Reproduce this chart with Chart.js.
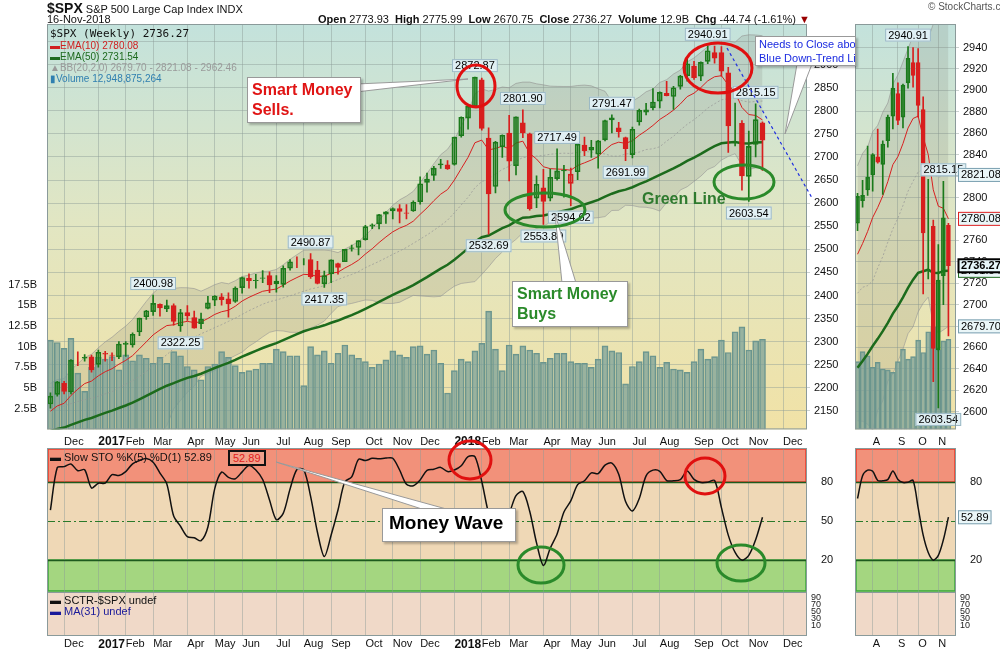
<!DOCTYPE html>
<html>
<head>
<meta charset="utf-8">
<script src="https://cdn.jsdelivr.net/npm/chart.js@4.4.1/dist/chart.umd.min.js"></script>
<style>
body{margin:0;width:1000px;height:650px;background:#fff;font-family:'Liberation Sans',Arial,sans-serif;position:relative;overflow:hidden;color:#111}
.c{position:absolute}
.t{position:absolute;white-space:nowrap;font-size:11px}
.box{position:absolute;background:#fff;border:1px solid #999;box-shadow:2px 2px 2px rgba(0,0,0,.25);font-weight:bold;line-height:1.25;white-space:nowrap}
svg{position:absolute;left:0;top:0;pointer-events:none}
</style>
</head>
<body>
<div class="c" style="left:0;top:0;width:850px;height:440px"><canvas id="main"></canvas></div>
<div class="c" style="left:850px;top:0;width:150px;height:440px"><canvas id="zoom"></canvas></div>
<div class="c" style="left:0;top:430px;width:850px;height:220px"><canvas id="sto"></canvas></div>
<div class="c" style="left:850px;top:430px;width:150px;height:220px"><canvas id="zsto"></canvas></div>

<svg width="1000" height="650">
  <line x1="727" y1="48" x2="812" y2="198" stroke="#2030e0" stroke-width="1.2" stroke-dasharray="3,3"/>
  <polygon points="356,84 468,79 356,92" fill="#fff" stroke="#999"/>
  <polygon points="555,214 562,283 576,283" fill="#fff" stroke="#999"/>
  <polygon points="276,462 425,510 450,510" fill="#fff" stroke="#999"/>
  <polygon points="797,64 785,134 812,64" fill="#fff" stroke="#999"/>
  <g fill="none" stroke-width="3">
    <ellipse cx="476" cy="86" rx="19" ry="21" stroke="#e01010"/>
    <ellipse cx="718" cy="68" rx="34" ry="25" stroke="#e01010"/>
    <ellipse cx="545" cy="210" rx="40" ry="17" stroke="#2a8a2a"/>
    <ellipse cx="744" cy="182" rx="30" ry="17" stroke="#2a8a2a"/>
    <ellipse cx="470" cy="460" rx="21" ry="19" stroke="#e01010"/>
    <ellipse cx="705" cy="476" rx="20" ry="18" stroke="#e01010"/>
    <ellipse cx="541" cy="565" rx="23" ry="18" stroke="#2a8a2a"/>
    <ellipse cx="741" cy="563" rx="24" ry="18" stroke="#2a8a2a"/>
  </g>
</svg>

<!-- header -->
<div class="t" style="left:47px;top:0;font-size:11px"><b style="font-size:14px">$SPX</b> S&amp;P 500 Large Cap Index INDX</div>
<div class="t" style="left:47px;top:13px">16-Nov-2018</div>
<div class="t" style="left:318px;top:13px"><b>Open</b> 2773.93 &nbsp;<b>High</b> 2775.99 &nbsp;<b>Low</b> 2670.75 &nbsp;<b>Close</b> 2736.27 &nbsp;<b>Volume</b> 12.9B &nbsp;<b>Chg</b> -44.74 (-1.61%) <span style="color:#900">&#9660;</span></div>
<div class="t" style="left:928px;top:1px;font-size:10px;color:#555">&copy; StockCharts.com</div>

<!-- price legend -->
<div class="t" style="left:50px;top:27px;font-size:11px;font-family:'DejaVu Sans Mono',monospace">$SPX (Weekly) 2736.27</div>
<div class="t" style="left:50px;top:40px;font-size:10px;color:#d02020">&#9644;EMA(10) 2780.08</div>
<div class="t" style="left:50px;top:51px;font-size:10px;color:#1e6a1e">&#9644;EMA(50) 2731.54</div>
<div class="t" style="left:50px;top:62px;font-size:10px;color:#9a9a9a">&#9650;BB(20,2.0) 2679.70 - 2821.08 - 2962.46</div>
<div class="t" style="left:50px;top:73px;font-size:10px;color:#2f7fb0">&#9646;Volume 12,948,875,264</div>

<!-- stochastic legend -->
<div class="t" style="left:50px;top:451px;font-size:11px">&#9644; Slow STO %K(5) %D(1) 52.89</div>
<div class="t" style="left:228px;top:450px;font-size:11px;color:#e02020;border:2px solid #111;padding:0 3px;background:#f2a08a">52.89</div>
<div class="t" style="left:50px;top:594px;font-size:11px">&#9644; SCTR-$SPX undef</div>
<div class="t" style="left:50px;top:605px;font-size:11px;color:#1a1a9a">&#9644; MA(31) undef</div>

<!-- callout boxes -->
<div class="box" style="left:247px;top:77px;width:108px;height:42px;color:#e01414;font-size:16px;padding:2px 0 0 4px">Smart Money<br>Sells.</div>
<div class="box" style="left:512px;top:281px;width:110px;height:42px;color:#2a8a2a;font-size:16px;padding:2px 0 0 4px">Smart Money<br>Buys</div>
<div class="box" style="left:382px;top:508px;width:126px;height:30px;color:#000;font-size:19px;padding:2px 0 0 6px;font-family:'Liberation Sans Narrow','Liberation Sans',Arial">Money Wave</div>
<div class="box" style="left:755px;top:36px;width:96px;height:27px;color:#1a2ae0;font-size:11px;font-weight:normal;padding:1px 0 0 3px;overflow:hidden">Needs to Close above<br>Blue Down-Trend Line</div>
<div class="t" style="left:642px;top:190px;font-size:16px;font-weight:bold;color:#2e7a2e">Green Line</div>

<script>
// -------------------------------------------------------------------------
// Weekly $SPX data (week ending 18-Nov-2016 .. 16-Nov-2018)
// -------------------------------------------------------------------------
const opens = [2165,2186,2210,2191,2258,2266,2267,2251,2273,2270,2267,2294,2293,2321,2354,2365,2381,2371,2378,2334,
  2363,2352,2339,2372,2390,2397,2393,2387,2417,2437,2432,2437,2443,2431,2424,2459,2472,2477,2478,2455,
  2425,2447,2469,2473,2503,2504,2521,2550,2555,2576,2583,2588,2578,2583,2603,2645,2660,2685,2683,2684,
  2746,2784,2809,2867,2741,2636,2722,2752,2681,2774,2750,2611,2633,2611,2653,2671,2643,2668,2726,2715,
  2706,2737,2785,2763,2742,2705,2776,2797,2807,2821,2838,2831,2853,2876,2897,2875,2907,2926,2926,2882,
  2768,2773,2658,2727,2773.93];
const highs = [2189,2214,2214,2261,2278,2272,2271,2282,2279,2276,2300,2300,2319,2351,2368,2400.98,2382,2390,2382,2370,
  2378,2366,2362,2398,2400,2404,2406,2419,2440,2447,2446,2454,2451,2443,2464,2478,2484,2480,2490.87,2474,
  2453,2477,2470,2500,2509,2519,2552,2555,2576,2582,2590,2597,2597,2605,2657,2665,2680,2695,2692,2743,
  2787,2811,2872.87,2871,2763,2734,2748,2790,2787,2801.90,2752,2659,2673,2674,2717.49,2682,2676,2733,2743,2736,
  2736,2780,2791.47,2775,2743,2765,2804,2816,2848,2841,2864,2853,2877,2916,2907,2906,2940.91,2940,2939,2894,
  2817,2779,2756,2815.15,2775.99];
const lows = [2156,2182,2187,2187,2248,2258,2234,2245,2258,2259,2263,2268,2288,2313,2348,2357,2355,2365,2336,2322.25,
  2346,2329,2328,2371,2378,2379,2353,2385,2405,2416,2416,2428,2406,2407,2418,2455,2460,2466,2437,2425,
  2417.35,2428,2446,2473,2496,2488,2520,2545,2544,2556,2566,2557,2566,2582,2598,2624,2649,2675,2673,2682,
  2743,2760,2808,2758,2532.69,2622,2699,2648,2661,2742,2585,2590,2553.80,2605,2650,2613,2594.62,2651,2703,2699,
  2676,2735,2752,2743,2691.99,2698,2769,2791,2802,2806,2832,2803,2847,2864,2868,2865,2902,2903,2875,2710,
  2724,2628,2603.54,2700,2670.75];
const closes = [2182,2213,2192,2260,2258,2264,2239,2277,2275,2271,2295,2297,2316,2351,2367,2383,2373,2378,2344,2363,
  2356,2329,2349,2384,2399,2391,2382,2416,2439,2432,2433,2438,2423,2425,2459,2473,2472,2477,2441,2426,
  2443,2477,2461,2500,2502,2519,2549,2553,2575,2581,2588,2582,2579,2602,2642,2652,2676,2683,2674,2743,
  2786,2810,2873,2762,2620,2732,2747,2691,2787,2752,2588,2641,2604,2656,2670,2670,2663,2728,2713,2721,
  2735,2779,2780,2755,2718,2760,2801,2802,2819,2840,2833,2850,2875,2902,2872,2905,2930,2914,2886,2767,
  2768,2659,2723,2781,2736.27];
// volume in billions of shares
const volumes = [10.8,10.5,9.8,11.0,6.8,4.6,7.5,8.7,8.5,8.8,7.2,9.0,8.3,9.0,8.6,8.0,8.7,8.0,9.4,8.9,
  7.6,7.2,6.0,7.6,7.9,9.4,8.7,7.7,6.9,7.1,7.3,8.0,8.0,9.7,9.4,8.9,8.9,5.3,10.0,9.0,
  9.5,8.0,9.2,10.2,9.0,8.6,8.2,7.5,7.9,8.4,9.5,9.0,8.7,10.0,10.1,9.1,9.6,8.0,4.4,7.1,
  8.5,8.2,9.5,10.4,14.3,9.7,7.1,10.2,9.1,10.1,9.6,9.2,8.1,8.6,9.2,9.2,8.2,8.0,8.0,7.5,
  8.5,10.1,9.5,9.3,5.5,7.6,8.2,9.4,8.9,7.5,8.1,7.3,7.2,6.9,8.2,9.7,8.5,8.8,10.8,9.3,
  11.8,12.4,9.6,10.7,10.9];
// weekly closes before the first plotted week (for indicator warm-up)
const priorCloses = [2183,2184,2184,2169,2180,2128,2139,2165,2168,2154,2133,2141,2126,2085,2164];
const priorHighs = [2169,2157,2148,2154,2131,2183];   // last 6 prior weeks
const priorLows = [2142,2114,2118,2119,2084,2084];

const priceTicks = [2150,2200,2250,2300,2350,2400,2450,2500,2550,2600,2650,2700,2750,2800,2850,2900,2950];
const zoomTicks = [2600,2620,2640,2660,2680,2700,2720,2740,2760,2780,2800,2820,2840,2860,2880,2900,2920,2940];
const volTicks = [2.5,5,7.5,10,12.5,15,17.5];
const stoTicks = [20,50,80];
const sctrTicks = ['90','70','50','30','10'];
const MONTHS = ['Jan','Feb','Mar','Apr','May','Jun','Jul','Aug','Sep','Oct','Nov','Dec'];
const hiLoMarks = [[15,'h'],[19,'l'],[38,'h'],[40,'l'],[62,'h'],[64,'l'],[69,'h'],[72,'l'],[74,'h'],[76,'l'],
  [82,'h'],[84,'l'],[96,'h'],[102,'l'],[103,'h']];
const zoomMarks = [[96,'h'],[102,'l'],[103,'h']];
// right-axis value flags in the zoom panel: value, border, text, bold
const zoomFlags = [[2821.08,'#7a9fb0','#000',false],[2780.08,'#e02020','#000',false],[2731.54,'#1e6a1e','#000',false],
  [2736.27,'#000','#000',true],[2679.70,'#7a9fb0','#000',false]];

const PAD_WEEKS = 6;
const ZOOM_FROM = 86;
const ZOOM_TO = 106;   // 19 weeks + 1 empty

// -------------------------------------------------------------------------
// Labels / indicators
// -------------------------------------------------------------------------
const N = closes.length;
const weekDates = [];
for (let i = 0; i < N + PAD_WEEKS; i++) weekDates.push(new Date(Date.UTC(2016, 10, 18 + 7 * i)));
const labels = weekDates.map(d => d.toISOString().slice(0, 10));
const monthStart = weekDates.map((d, i) => i > 0 && d.getUTCMonth() !== weekDates[i - 1].getUTCMonth());

function ema(src, n, seed) {
    const k = 2 / (n + 1);
    let e = seed;
    return src.map(v => (e = v * k + e * (1 - k)));
}
const allCloses = priorCloses.concat(closes);
const P = priorCloses.length;
const ema10 = ema(allCloses, 10, 2170).slice(P);
const ema50 = ema(allCloses, 50, 2065).slice(P);
const bbUp = [], bbLow = [], bbMid = [];
for (let j = P; j < allCloses.length; j++) {
    const w = allCloses.slice(Math.max(0, j - 19), j + 1);
    const m = w.reduce((a, b) => a + b, 0) / w.length;
    const sd = Math.sqrt(w.reduce((a, b) => a + (b - m) ** 2, 0) / w.length);
    bbMid.push(m); bbUp.push(m + 2 * sd); bbLow.push(m - 2 * sd);
}
// slow stochastic %K(5), smoothed 3
const hA = priorHighs.concat(highs), lA = priorLows.concat(lows), cA = priorCloses.slice(-6).concat(closes);
const fastK = cA.map((c, j) => {
    if (j < 4) return null;
    const hh = Math.max(...hA.slice(j - 4, j + 1)), ll = Math.min(...lA.slice(j - 4, j + 1));
    return 100 * (c - ll) / (hh - ll);
});
const slowK = [];
for (let j = 6; j < cA.length; j++) slowK.push((fastK[j] + fastK[j - 1] + fastK[j - 2]) / 3);

const prevClose = i => (i ? closes[i - 1] : priorCloses[P - 1]);
const candleColor = i => (closes[i] >= prevClose(i) ? '#1b7a1b' : '#d81e1e');

// -------------------------------------------------------------------------
// Plugins
// -------------------------------------------------------------------------
const FONT = "'Liberation Sans', Arial, sans-serif";

const priceBg = {
    id: 'priceBg',
    beforeDraw(chart) {
        const { ctx, chartArea: a } = chart;
        const g = ctx.createLinearGradient(0, a.top, 0, a.bottom);
        g.addColorStop(0, '#c3e2dc');
        g.addColorStop(0.5, '#e2e6c2');
        g.addColorStop(1, '#f1e2a6');
        ctx.save();
        ctx.fillStyle = g;
        ctx.fillRect(a.left, a.top, a.right - a.left, a.bottom - a.top);
        ctx.restore();
    },
    afterDraw(chart) {
        const { ctx, chartArea: a } = chart;
        ctx.save();
        ctx.strokeStyle = '#8a9a9a';
        ctx.strokeRect(a.left + 0.5, a.top + 0.5, a.right - a.left - 1, a.bottom - a.top - 1);
        ctx.restore();
    }
};

function tagBox(ctx, text, x, y, border, bg, color, bold) {
    ctx.font = (bold ? 'bold ' : '') + '11px ' + FONT;
    const w = ctx.measureText(text).width + 6;
    ctx.fillStyle = bg;
    ctx.fillRect(x, y - 7, w, 14);
    ctx.strokeStyle = border;
    ctx.lineWidth = bold ? 2 : 1;
    ctx.strokeRect(x + 0.5, y - 6.5, w - 1, 13);
    ctx.fillStyle = color;
    ctx.textBaseline = 'middle';
    ctx.fillText(text, x + 3, y + 0.5);
}

function hiLoPlugin(marks, offset) {
    return {
        id: 'hiLo',
        afterDatasetsDraw(chart) {
            const { ctx, scales } = chart;
            ctx.save();
            ctx.font = '11px ' + FONT;
            marks.forEach(([i, t]) => {
                const v = t === 'h' ? highs[i] : lows[i];
                const txt = v.toFixed(2);
                const x = scales.x.getPixelForValue(i - offset);
                const py = scales.y.getPixelForValue(v);
                const w = ctx.measureText(txt).width + 6;
                const y = t === 'h' ? py - 18 : py + 5;
                ctx.fillStyle = 'rgba(225,240,245,0.95)';
                ctx.fillRect(x - w / 2, y, w, 13);
                ctx.strokeStyle = '#9ab8c4';
                ctx.strokeRect(x - w / 2 + 0.5, y + 0.5, w - 1, 12);
                ctx.fillStyle = '#000';
                ctx.textBaseline = 'middle';
                ctx.textAlign = 'center';
                ctx.fillText(txt, x, y + 7);
            });
            ctx.restore();
        }
    };
}

const zoomFlagPlugin = {
    id: 'zoomFlags',
    afterDraw(chart) {
        const { ctx, scales, chartArea: a } = chart;
        ctx.save();
        zoomFlags.forEach(([v, border, color, bold]) => {
            tagBox(ctx, v.toFixed(2), a.right + 2, scales.y.getPixelForValue(v), border,
                bold ? '#e6f6fa' : '#eaf6f8', color, bold);
        });
        ctx.restore();
    }
};

// month labels above the indicator panel (same text as the bottom axis)
const topMonths = {
    id: 'topMonths',
    afterDraw(chart) {
        const { ctx, chartArea: a, scales: { x } } = chart;
        ctx.save();
        ctx.fillStyle = '#111';
        ctx.textBaseline = 'bottom';
        x.ticks.forEach((t, i) => {
            if (!t.label) return;
            const yr = /^\d{4}$/.test(t.label);
            ctx.font = (yr ? 'bold 12px ' : '11px ') + FONT;
            ctx.fillText(t.label, x.getPixelForTick(i), a.top - 0.5);
        });
        ctx.restore();
    }
};

const stoBands = {
    id: 'stoBands',
    beforeDraw(chart) {
        const { ctx, chartArea: a, scales: { y } } = chart;
        const w = a.right - a.left;
        const y80 = y.getPixelForValue(80), y20 = y.getPixelForValue(20), ySep = y.getPixelForValue(-4.6);
        ctx.save();
        ctx.fillStyle = '#efd8b6';
        ctx.fillRect(a.left, a.top, w, ySep - a.top);
        ctx.fillStyle = '#f2917a';
        ctx.fillRect(a.left, a.top, w, y80 - a.top);
        ctx.strokeStyle = '#ee3a2a';
        ctx.lineWidth = 1.5;
        ctx.strokeRect(a.left + 1, a.top + 1, w - 2, y80 - a.top - 1);
        ctx.fillStyle = '#a4d680';
        ctx.fillRect(a.left, y20, w, ySep - y20);
        ctx.strokeStyle = '#3da83d';
        ctx.strokeRect(a.left + 1, y20, w - 2, ySep - y20 - 1);
        ctx.fillStyle = '#f0d9c8';
        ctx.fillRect(a.left, ySep, w, a.bottom - ySep);
        ctx.restore();
    },
    beforeDatasetsDraw(chart) {
        const { ctx, chartArea: a, scales: { y } } = chart;
        ctx.save();
        ctx.strokeStyle = '#1e5a1e';
        ctx.lineWidth = 1.5;
        [80, 20].forEach(v => {
            const py = Math.round(y.getPixelForValue(v)) + 0.5;
            ctx.beginPath(); ctx.moveTo(a.left, py); ctx.lineTo(a.right, py); ctx.stroke();
        });
        ctx.strokeStyle = '#2a7a2a';
        ctx.lineWidth = 1;
        ctx.setLineDash([8, 3, 2, 3]);
        const p50 = Math.round(y.getPixelForValue(50)) + 0.5;
        ctx.beginPath(); ctx.moveTo(a.left, p50); ctx.lineTo(a.right, p50); ctx.stroke();
        ctx.setLineDash([]);
        const ps = Math.round(y.getPixelForValue(-4.6)) + 0.5;
        ctx.strokeStyle = '#8a9a9a';
        ctx.beginPath(); ctx.moveTo(a.left, ps); ctx.lineTo(a.right, ps); ctx.stroke();
        ctx.restore();
    },
    afterDraw(chart) {
        const { ctx, chartArea: a, scales: { y } } = chart;
        ctx.save();
        ctx.strokeStyle = '#8a9a9a';
        ctx.strokeRect(a.left + 0.5, a.top + 0.5, a.right - a.left - 1, a.bottom - a.top - 1);
        ctx.font = '9px ' + FONT;
        ctx.fillStyle = '#222';
        ctx.textBaseline = 'middle';
        sctrTicks.forEach((t, k) => ctx.fillText(t, a.right + 4, y.getPixelForValue(-9 - k * 5.4)));
        ctx.restore();
    }
};

const zStoFlag = {
    id: 'zStoFlag',
    afterDraw(chart) {
        const { ctx, chartArea: a, scales: { y } } = chart;
        ctx.save();
        tagBox(ctx, '52.89', a.right + 2, y.getPixelForValue(52.89), '#7a9fb0', '#eaf6f8', '#000', false);
        ctx.restore();
    }
};

// -------------------------------------------------------------------------
// Chart builders
// -------------------------------------------------------------------------
function fixW(w) { return s => { s.width = w; }; }
function fixH(h) { return s => { s.height = h; }; }
const gridX = (ls) => ({ color: c => (ls[c.index] ? 'rgba(140,155,150,0.45)' : 'transparent'), offset: false, drawTicks: false });

function priceChart(id, from, to, bodyW, yMin, yMax, yTicks, marks, extra) {
    const lab = labels.slice(from, to);
    const ms = monthStart.slice(from, to);
    const idx = closes.map((_, i) => i).slice(from);
    const sl = a => a.slice(from);
    const datasets = [
        { type: 'line', data: sl(bbUp), borderColor: 'rgba(150,150,150,0.6)', borderWidth: 1, pointRadius: 0, order: 12 },
        { type: 'line', data: sl(bbLow), borderColor: 'rgba(150,150,150,0.6)', borderWidth: 1, pointRadius: 0,
          fill: '-1', backgroundColor: 'rgba(120,120,105,0.17)', order: 11 },
        { type: 'bar', data: sl(volumes), yAxisID: 'vol', backgroundColor: 'rgba(120,160,152,0.72)',
          borderColor: '#6a948c', borderWidth: 1, barThickness: bodyW + 1, order: 10 },
        { type: 'line', data: sl(bbMid), borderColor: 'rgba(150,150,150,0.7)', borderWidth: 1, borderDash: [2, 2], pointRadius: 0, order: 9 },
        { type: 'line', data: sl(ema50), borderColor: '#1c6b1c', borderWidth: 2.5, pointRadius: 0, order: 8 },
        { type: 'line', data: sl(ema10), borderColor: '#d82020', borderWidth: 1, pointRadius: 0, order: 7 },
        { type: 'bar', data: idx.map(i => [lows[i], highs[i]]), backgroundColor: idx.map(candleColor),
          barThickness: 1, grouped: false, order: 2 },
        { type: 'bar', data: idx.map(i => [opens[i], closes[i]]), grouped: false, order: 1,
          backgroundColor: idx.map(i => (closes[i] < opens[i] ? candleColor(i) : 'rgba(255,255,255,0)')),
          borderColor: idx.map(candleColor), borderWidth: 1, borderSkipped: false, barThickness: bodyW }
    ];
    return new Chart(document.getElementById(id), {
        type: 'bar',
        data: { labels: lab, datasets },
        options: {
            responsive: true, maintainAspectRatio: false, animation: false,
            layout: { padding: extra.padding },
            plugins: { legend: { display: false }, tooltip: { enabled: false } },
            scales: {
                x: { ticks: { display: false }, grid: gridX(ms), border: { display: false }, afterFit: fixH(0) },
                y: {
                    position: 'right', min: yMin, max: yMax,
                    afterBuildTicks: s => { s.ticks = yTicks.map(v => ({ value: v })); },
                    afterFit: fixW(extra.axisW),
                    ticks: { callback: v => String(v), font: { size: 11, family: FONT }, color: '#111', padding: 4 },
                    grid: { color: 'rgba(140,155,150,0.45)', drawTicks: true, tickLength: 3 }, border: { display: false }
                },
                vol: {
                    position: 'left', min: 0, max: 49,
                    afterBuildTicks: s => { s.ticks = volTicks.map(v => ({ value: v })); },
                    afterFit: fixW(extra.volAxis ? 47 : 0),
                    ticks: { display: extra.volAxis, callback: v => v + 'B', font: { size: 11, family: FONT }, color: '#111', padding: 2 },
                    grid: { display: false }, border: { display: false }
                }
            }
        },
        plugins: [priceBg, hiLoPlugin(marks, from)].concat(extra.plugins || [])
    });
}

function monthTick(from, short) {
    return function (v, i) {
        const k = i + from;
        if (!monthStart[k]) return '';
        const d = weekDates[k];
        if (short) return MONTHS[d.getUTCMonth()][0];
        return d.getUTCMonth() === 0 ? String(d.getUTCFullYear()) : MONTHS[d.getUTCMonth()];
    };
}

function stoChart(id, from, to, extra) {
    const lab = labels.slice(from, to);
    const isYear = c => /^\d{4}$/.test(c.tick && c.tick.label);
    const tickOpts = {
        autoSkip: false, maxRotation: 0, minRotation: 0, align: 'start', padding: 1, color: '#111',
        callback: monthTick(from, extra.short),
        font: c => ({ size: isYear(c) ? 12 : 11, weight: isYear(c) ? 'bold' : 'normal', family: FONT })
    };
    return new Chart(document.getElementById(id), {
        type: 'line',
        data: { labels: lab, datasets: [{ data: slowK.slice(from), borderColor: '#111', borderWidth: 1.5, pointRadius: 0, tension: 0.3 }] },
        options: {
            responsive: true, maintainAspectRatio: false, animation: false,
            layout: { padding: Object.assign({ top: 18 }, extra.padding) },
            plugins: { legend: { display: false }, tooltip: { enabled: false } },
            scales: {
                x: { offset: true, ticks: tickOpts, grid: gridX(monthStart.slice(from, to)), border: { display: false }, afterFit: fixH(14) },
                y: {
                    position: 'right', min: -38.5, max: 106.2,
                    afterBuildTicks: s => { s.ticks = stoTicks.map(v => ({ value: v })); },
                    afterFit: fixW(extra.axisW),
                    ticks: { font: { size: 11, family: FONT }, color: '#111', padding: 6 },
                    grid: { display: false }, border: { display: false }
                }
            }
        },
        plugins: [stoBands, topMonths].concat(extra.plugins || [])
    });
}

// -------------------------------------------------------------------------
// Render
// -------------------------------------------------------------------------
Chart.defaults.font.family = FONT;
priceChart('main', 0, undefined, 5, 2110, 2988, priceTicks, hiLoMarks, { padding: { top: 24, bottom: 3 }, axisW: 43, volAxis: true });
priceChart('zoom', ZOOM_FROM, ZOOM_TO, 4, 2583.5, 2962, zoomTicks, zoomMarks,
    { padding: { top: 24, bottom: 3, left: 5 }, axisW: 44, volAxis: false, plugins: [zoomFlagPlugin] });
stoChart('sto', 0, undefined, { padding: { left: 47 }, axisW: 43, short: false });
stoChart('zsto', ZOOM_FROM, ZOOM_TO, { padding: { left: 5 }, axisW: 44, short: true, plugins: [zStoFlag] });
</script>
</body>
</html>
